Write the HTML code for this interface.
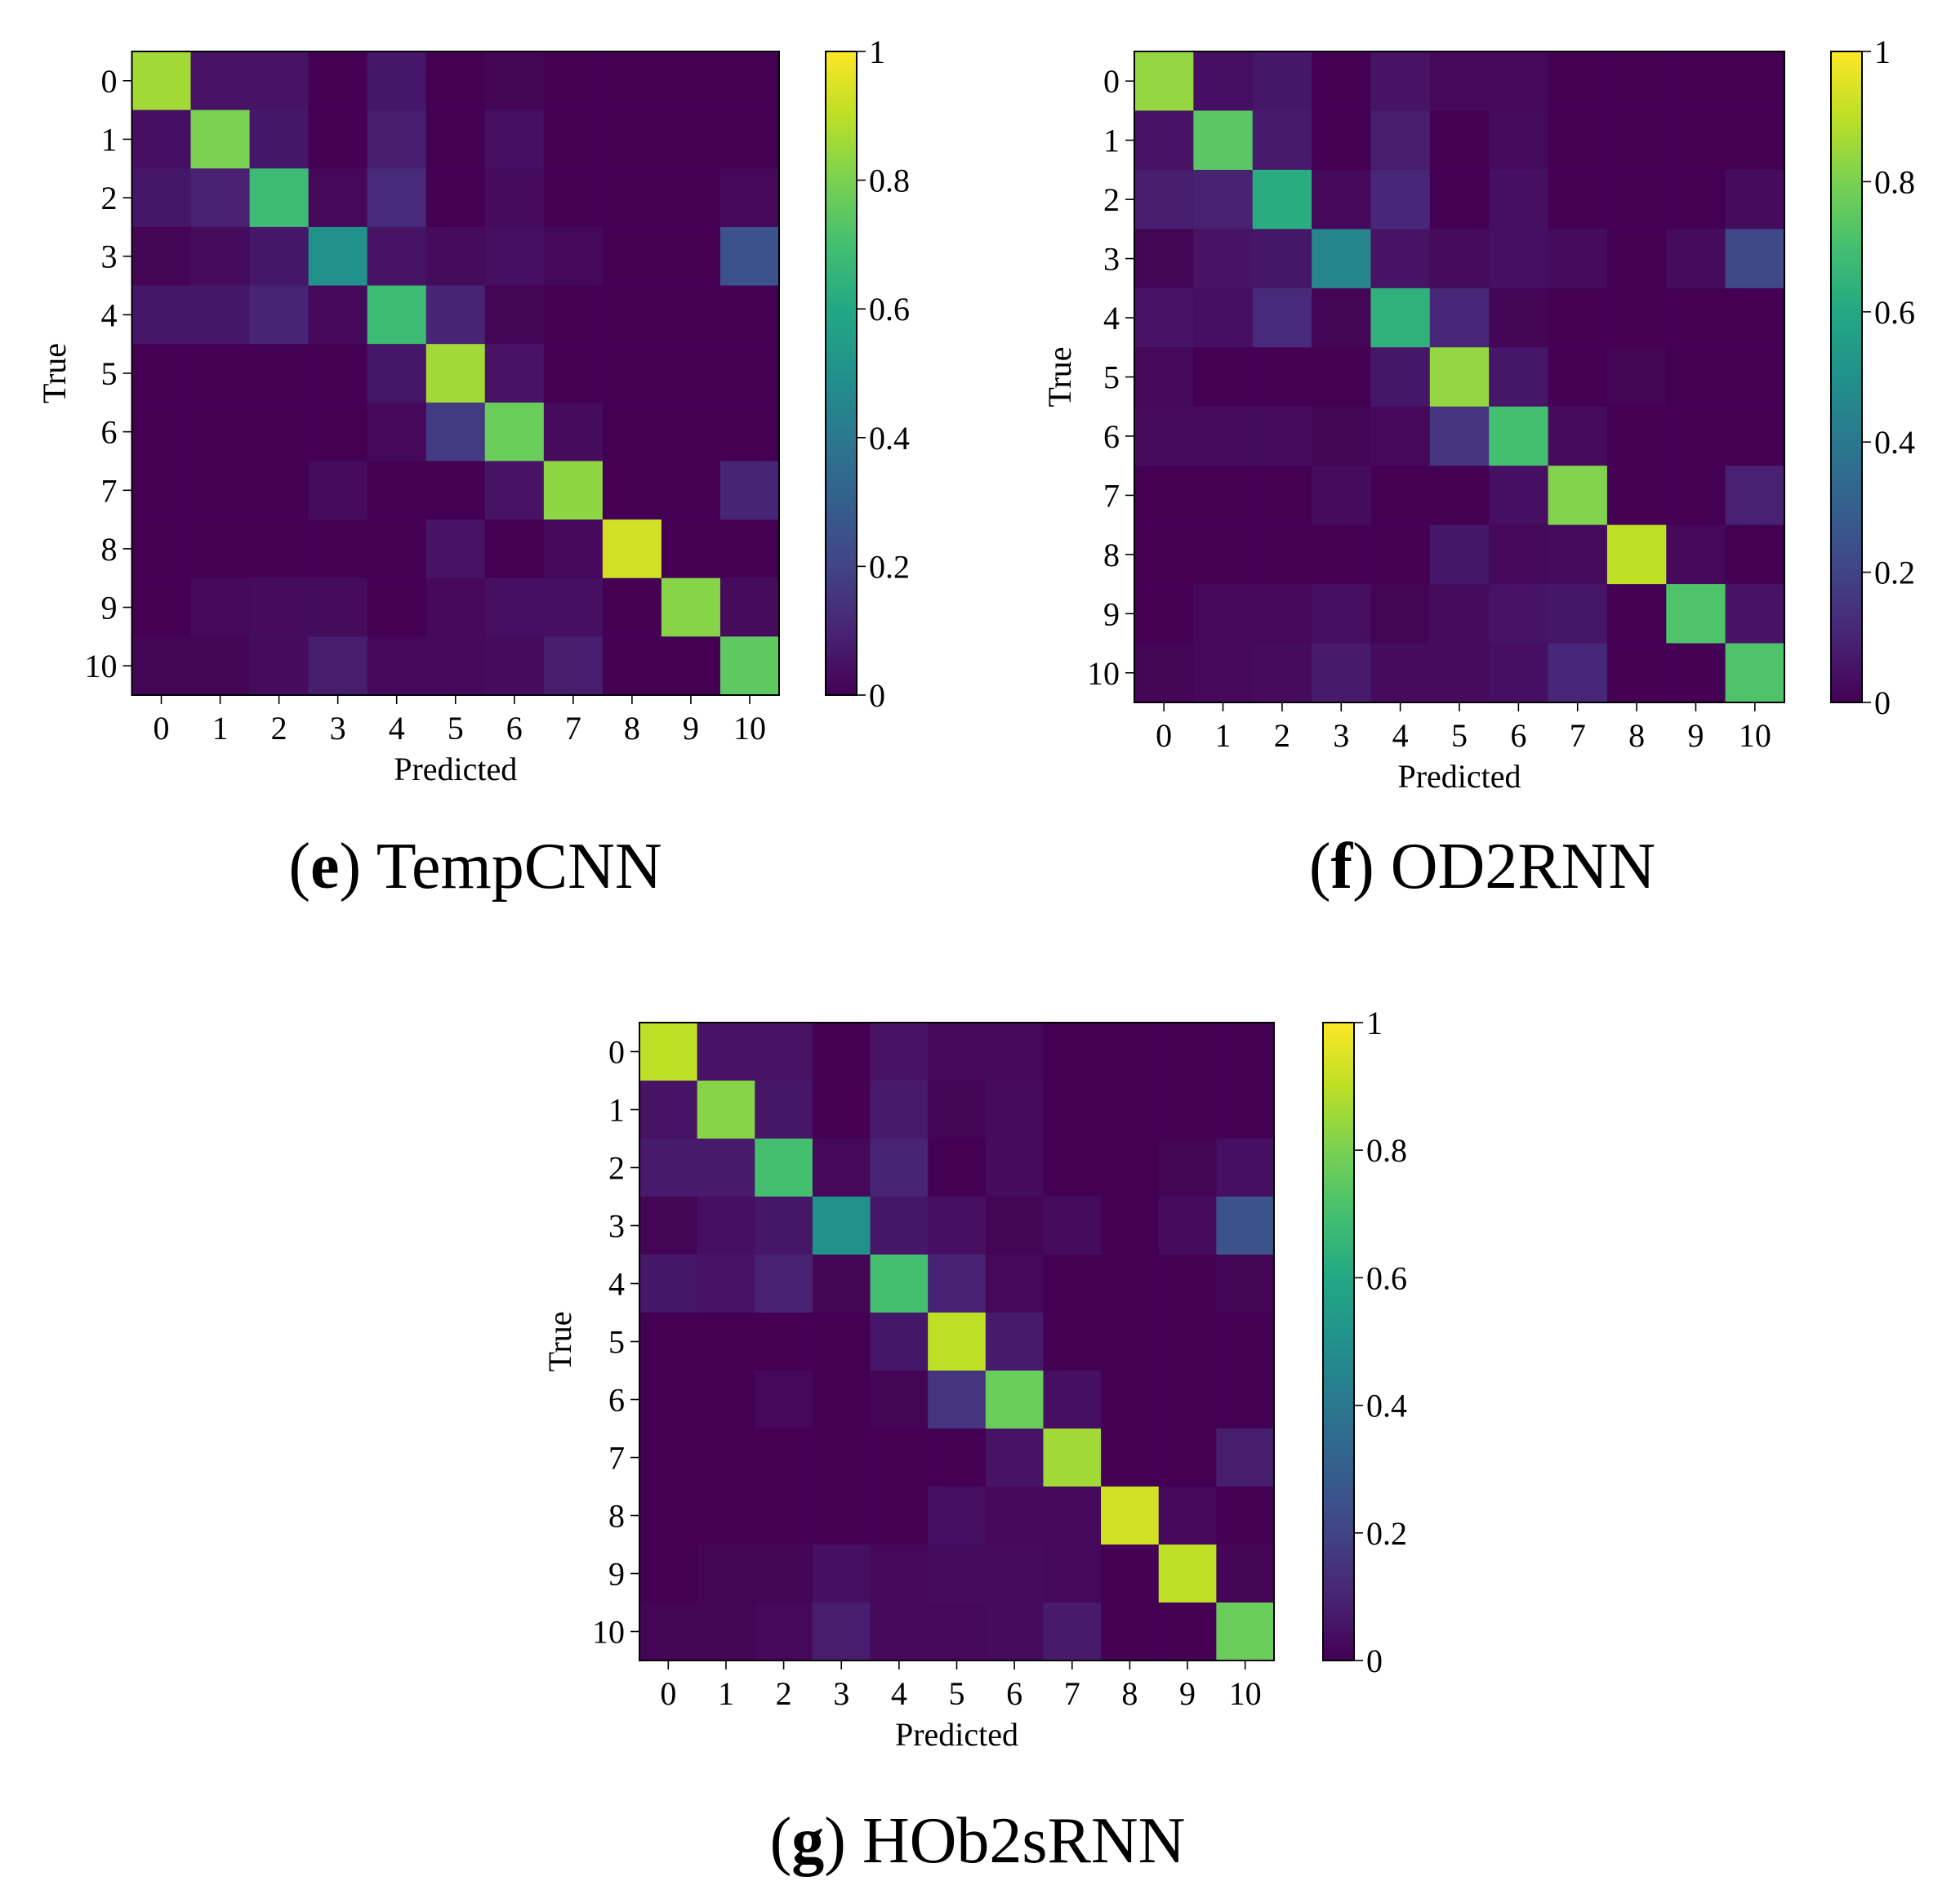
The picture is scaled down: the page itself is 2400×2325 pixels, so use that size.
<!DOCTYPE html>
<html><head><meta charset="utf-8">
<style>
html,body{margin:0;padding:0;background:#fff;}
svg text{font-family:"Liberation Serif","DejaVu Serif",serif;fill:#000;}
</style></head>
<body>
<svg id="s" xmlns="http://www.w3.org/2000/svg" width="2400" height="2320" viewBox="0 0 2400 2320">
<defs>
<linearGradient id="vir" x1="0" y1="1" x2="0" y2="0">
<stop offset="0" stop-color="#440154"/><stop offset="0.1" stop-color="#482475"/>
<stop offset="0.2" stop-color="#414487"/><stop offset="0.3" stop-color="#355f8d"/>
<stop offset="0.4" stop-color="#2a788e"/><stop offset="0.5" stop-color="#21918c"/>
<stop offset="0.6" stop-color="#22a884"/><stop offset="0.7" stop-color="#44bf70"/>
<stop offset="0.8" stop-color="#7ad151"/><stop offset="0.9" stop-color="#bddf26"/>
<stop offset="1" stop-color="#fde725"/>
</linearGradient>
</defs>
<text x="582" y="1087" font-size="80" text-anchor="middle">(<tspan font-weight="bold">e</tspan>) TempCNN</text>
<text x="1815" y="1087" font-size="80" text-anchor="middle">(<tspan font-weight="bold">f</tspan>) OD2RNN</text>
<text x="1197" y="2280" font-size="80" text-anchor="middle">(<tspan font-weight="bold">g</tspan>) HOb2sRNN</text>
</svg>
<script>
var V=[[0,68,1,84],[.1,72,36,117],[.2,65,68,135],[.3,53,95,141],[.4,42,120,142],[.5,33,145,140],[.6,34,168,132],[.7,68,191,112],[.8,122,209,81],[.9,189,223,38],[1,253,231,37]];
function col(v){v=Math.max(0,Math.min(1,v));for(var i=0;i<V.length-1;i++){if(v<=V[i+1][0]){var t=(v-V[i][0])/(V[i+1][0]-V[i][0]);var c=[1,2,3].map(function(k){return Math.round(V[i][k]+t*(V[i+1][k]-V[i][k]));});return "rgb("+c.join(",")+")";}}return "rgb(253,231,37)";}
var E=[[.86,.05,.05,0,.06,0,.01,0,0,0,0],[.04,.80,.06,0,.08,0,.04,0,0,0,0],[.06,.09,.68,.02,.12,0,.03,0,0,0,.02],[.01,.03,.06,.50,.05,.03,.04,.02,0,0,.25],[.06,.06,.10,.02,.68,.10,.01,0,0,0,0],[0,0,0,0,.06,.86,.05,0,0,0,0],[0,0,0,0,.02,.17,.77,.03,0,0,0],[0,0,0,.03,0,0,.05,.83,0,0,.10],[0,0,0,0,0,.05,0,.02,.93,0,0],[0,.02,.03,.03,0,.02,.04,.04,0,.82,.03],[.01,.01,.03,.08,.02,.02,.03,.08,0,0,.75]];
var F=[[.84,.04,.06,0,.05,.02,.02,0,0,0,0],[.05,.74,.07,0,.08,0,.03,0,0,0,0],[.08,.09,.62,.02,.11,0,.04,0,0,0,.03],[.01,.05,.06,.45,.05,.03,.04,.03,0,.03,.22],[.05,.04,.12,.01,.64,.11,.01,0,0,0,0],[.02,0,0,0,.06,.84,.06,0,.01,0,0],[.03,.03,.03,.01,.02,.15,.70,.03,0,0,0],[0,0,0,.03,0,0,.04,.81,0,0,.09],[0,0,0,0,0,.06,.02,.03,.90,.02,0],[0,.02,.02,.04,.01,.03,.05,.06,0,.72,.05],[.01,.02,.03,.07,.03,.03,.04,.11,0,0,.72]];
var G=[[.90,.05,.05,0,.05,.02,.02,0,0,0,0],[.05,.82,.06,0,.07,.01,.03,0,0,0,0],[.07,.07,.70,.02,.10,0,.03,0,0,.01,.04],[.01,.04,.06,.50,.06,.04,.01,.03,0,.03,.25],[.06,.05,.09,.01,.70,.09,.02,0,0,0,.01],[0,0,0,0,.06,.90,.07,0,0,0,0],[0,0,.02,0,.01,.15,.77,.04,0,0,0],[0,0,0,0,0,0,.05,.86,0,0,.08],[0,0,0,0,0,.04,.02,.02,.93,.02,0],[0,.01,.01,.04,.02,.03,.03,.02,0,.90,.01],[.01,.01,.02,.08,.02,.02,.03,.07,0,0,.77]];
var s=document.getElementById('s'),h='';
function panel(M,x0,x1,y0,y1,cx,tx){
 var w=(x1-x0)/11,hh=(y1-y0)/11,i,j;
 for(i=0;i<11;i++)for(j=0;j<11;j++)h+='<rect x="'+(x0+j*w).toFixed(2)+'" y="'+(y0+i*hh).toFixed(2)+'" width="'+(w+0.6).toFixed(2)+'" height="'+(hh+0.6).toFixed(2)+'" fill="'+col(M[i][j])+'"/>';
 h+='<rect x="'+x0+'" y="'+y0+'" width="'+(x1-x0)+'" height="'+(y1-y0)+'" fill="none" stroke="#000" stroke-width="2"/>';
 for(i=0;i<11;i++){var yc=y0+(i+.5)*hh,xc=x0+(i+.5)*w;
  h+='<line x1="'+(x0-11)+'" y1="'+yc+'" x2="'+x0+'" y2="'+yc+'" stroke="#000" stroke-width="1.6"/>';
  h+='<text x="'+(x0-18)+'" y="'+(yc+14)+'" font-size="40" text-anchor="end">'+i+'</text>';
  h+='<line x1="'+xc+'" y1="'+y1+'" x2="'+xc+'" y2="'+(y1+11)+'" stroke="#000" stroke-width="1.6"/>';
  h+='<text x="'+xc+'" y="'+(y1+54)+'" font-size="40" text-anchor="middle">'+i+'</text>';}
 h+='<text x="'+((x0+x1)/2)+'" y="'+(y1+104)+'" font-size="40" text-anchor="middle">Predicted</text>';
 h+='<text transform="translate('+(tx+4)+','+((y0+y1)/2)+') rotate(-90)" font-size="40" text-anchor="middle">True</text>';
 h+='<rect x="'+cx+'" y="'+y0+'" width="38" height="'+(y1-y0)+'" fill="url(#vir)" stroke="#000" stroke-width="2"/>';
 var L=['0','0.2','0.4','0.6','0.8','1'];
 for(i=0;i<6;i++){var yy=y1-i*(y1-y0)/5;
  h+='<line x1="'+(cx+38)+'" y1="'+yy+'" x2="'+(cx+49)+'" y2="'+yy+'" stroke="#000" stroke-width="1.6"/>';
  h+='<text x="'+(cx+53)+'" y="'+(yy+14)+'" font-size="40">'+L[i]+'</text>';}
}
panel(E,161.5,954,63,851,1011,76);
panel(F,1389,2185,63,860,2242,1307);
panel(G,783,1560,1252,2033,1620,695);
s.insertAdjacentHTML('beforeend',h);
</script>
</body></html>
